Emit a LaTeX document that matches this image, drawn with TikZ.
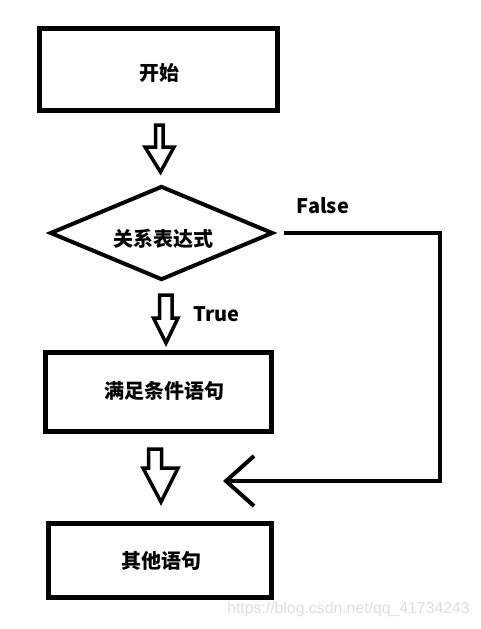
\documentclass[tikz,border=0pt]{standalone}
\usepackage{fontspec}
\newfontfamily\cjk{Noto Sans CJK SC}
\newfontfamily\wmfont{Liberation Sans}
\usetikzlibrary{shapes.geometric,calc}
\begin{document}
\begin{tikzpicture}[x=1pt,y=-1pt,
  box/.style={draw, line width=5pt, inner sep=0pt},
  cond/.style={diamond, draw, line width=4pt, inner sep=0pt, minimum width=223pt, minimum height=94pt},
  lbl/.style={inner sep=0pt, font=\cjk\bfseries\fontsize{20}{20}\selectfont},
  conn/.style={line width=4pt, line join=miter},
  hollow/.style={draw, line width=3.5pt, line join=miter},
  wm/.style={inner sep=0pt, text=black!13, font=\wmfont\fontsize{15.8}{15.8}\selectfont}]
\useasboundingbox[fill=white] (0,0) rectangle (480,629);

% boxes
\node[box, minimum width=238pt, minimum height=82pt] (start) at (158,69) {};
\node[lbl] (starttxt) at (159.5,72.5) {开始};

\node[cond] (cond) at (161.5,233) {};
\node[lbl] (condtxt) at (163,238.5) {关系表达式};

\node[box, minimum width=226pt, minimum height=79pt] (yes) at (158,391.5) {};
\node[lbl] (yestxt) at (164,391) {满足条件语句};

\node[box, minimum width=223pt, minimum height=74pt] (other) at (159.5,560) {};
\node[lbl] (othertxt) at (161.7,560.5) {其他语句};

% hollow arrows
\draw[hollow] (155.5,125) -- (163,125) -- (163,147) -- (174,147) -- (160.5,172)
  -- (145,147) -- (155.5,147) -- cycle;
\draw[hollow] (159.5,295) -- (172,295) -- (172,318) -- (178,318) -- (166,343)
  -- (153.5,318) -- (159.5,318) -- cycle;
\draw[hollow] (148.5,449) -- (161.5,449) -- (161.5,468) -- (178,468) -- (161,502)
  -- (143,468) -- (148.5,468) -- cycle;

% labels
\node[lbl] (truelbl) at (216.5,314) {True};
\node[lbl] (falselbl) at (323,206) {False};

% false branch
\coordinate (fs) at ($(cond.east)+(9,0)$);
\coordinate (fc1) at (440,233);
\coordinate (fc2) at (440,481);
\coordinate (ft) at (226,481);
\draw[conn] (fs) -- (fc1) -- (fc2) -- (ft);
\draw[conn] ($(ft)+(28,-25)$) -- (ft) -- ($(ft)+(28,25)$);

% watermark
\node[wm] (wmtxt) at (348.5,609) {https://blog.csdn.net/qq\_41734243};
\end{tikzpicture}
\end{document}
